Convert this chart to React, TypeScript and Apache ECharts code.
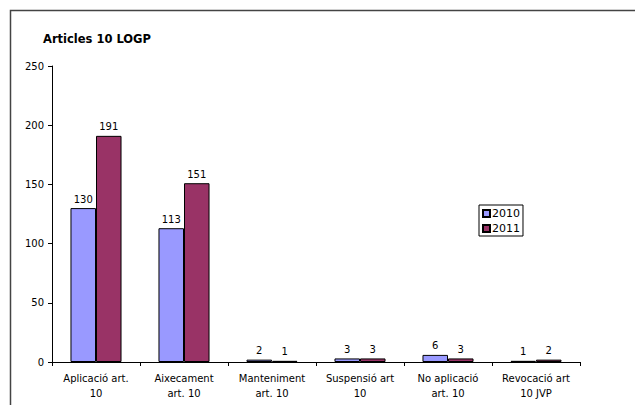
import React, { useEffect, useRef } from "react";
import * as echarts from "echarts";

const categories = [
  "Aplicació art.\n10",
  "Aixecament\nart. 10",
  "Manteniment\nart. 10",
  "Suspensió art\n10",
  "No aplicació\nart. 10",
  "Revocació art\n10 JVP",
];
const values2010 = [130, 113, 2, 3, 6, 1];
const values2011 = [191, 151, 1, 3, 3, 2];
const seriesNames = ["2010", "2011"];
const titleText = "Articles 10 LOGP";

const FONT = "DejaVu Sans";

export default function App() {
  const ref = useRef<HTMLDivElement>(null);
  useEffect(() => {
    if (!ref.current) return;
    const chart = echarts.init(ref.current, undefined, { renderer: "svg" });
    const labelStyle = { show: true, position: "top" as const, color: "#000", fontSize: 10, fontFamily: FONT, distance: 4 };
    chart.setOption({
      animation: false,
      backgroundColor: "#fff",
      textStyle: { fontFamily: FONT },
      title: {
        text: titleText,
        left: 43,
        top: 33,
        padding: 0,
        textStyle: { fontSize: 11.5, fontWeight: "bold", color: "#000", fontFamily: FONT },
      },
      graphic: [
        {
          type: "rect",
          shape: { x: 10.5, y: 10.5, width: 800, height: 600 },
          style: { fill: "none", stroke: "#444", lineWidth: 1.5 },
          silent: true,
        },
      ],
      legend: {
        orient: "vertical",
        left: 479,
        top: 205,
        padding: [3, 3, 2, 3],
        borderColor: "#000",
        borderWidth: 1,
        itemWidth: 7,
        itemHeight: 7,
        itemGap: 4,
        icon: "rect",
        textStyle: { fontSize: 11, color: "#000", fontFamily: FONT, padding: [0, 0, 0, -3] },
        data: seriesNames,
      },
      grid: { left: 52, right: 55, top: 66, bottom: 43 },
      xAxis: {
        type: "category",
        data: categories,
        axisLine: { lineStyle: { color: "#000", width: 1 } },
        axisTick: { show: true, length: 4, lineStyle: { color: "#000" } },
        axisLabel: { color: "#000", fontSize: 10, fontFamily: FONT, lineHeight: 15, margin: 9, interval: 0 },
      },
      yAxis: {
        type: "value",
        min: 0,
        max: 250,
        interval: 50,
        axisLine: { show: true, lineStyle: { color: "#000", width: 1 } },
        axisTick: { show: true, length: 4, lineStyle: { color: "#000" } },
        axisLabel: { color: "#000", fontSize: 10, fontFamily: FONT, margin: 8 },
        splitLine: { show: false },
      },
      series: [
        {
          name: seriesNames[0],
          type: "bar",
          data: values2010,
          barGap: "0%",
          barCategoryGap: "42%",
          itemStyle: { color: "#9999FF", borderColor: "#000", borderWidth: 1 },
          label: labelStyle,
        },
        {
          name: seriesNames[1],
          type: "bar",
          data: values2011,
          itemStyle: { color: "#993366", borderColor: "#000", borderWidth: 1 },
          label: labelStyle,
        },
      ],
    });
    return () => chart.dispose();
  }, []);
  return <div ref={ref} style={{ position: "fixed", left: 0, top: 0, width: 635, height: 405 }} />;
}
